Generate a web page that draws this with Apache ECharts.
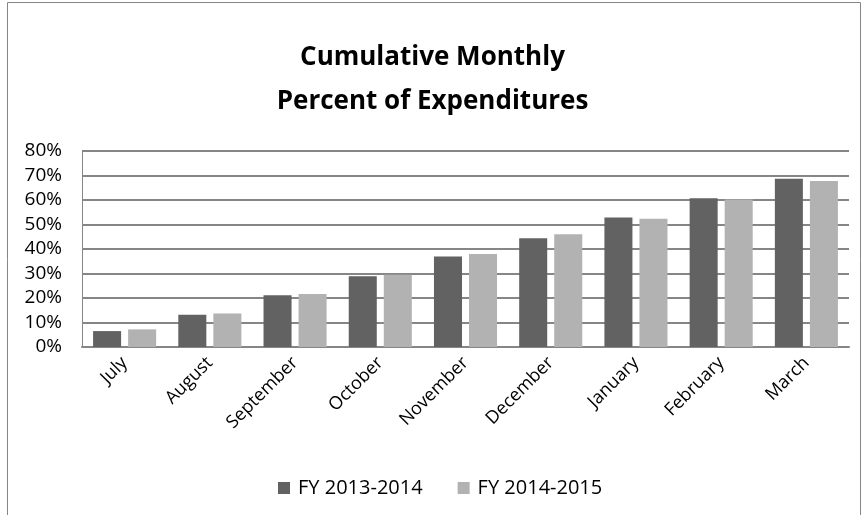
<!DOCTYPE html>
<html><head><meta charset="utf-8">
<script src="https://cdn.jsdelivr.net/npm/echarts@6/dist/echarts.min.js"></script>
<style>html,body{margin:0;padding:0;background:#fff}#c{width:865px;height:515px}</style>
</head><body><div id="c"></div>
<script>
const categories = ['July','August','September','October','November','December','January','February','March'];
const fy1314 = [6.5,13.2,21.1,28.9,36.9,44.4,52.9,60.7,68.7];
const fy1415 = [7.2,13.7,21.6,29.5,38.0,46.0,52.3,60.2,67.8];
const seriesNames = ['FY 2013-2014','FY 2014-2015'];
const yTicks = [0,10,20,30,40,50,60,70,80];

const font = '"Open Sans", sans-serif';
const chart = echarts.init(document.getElementById('c'));
chart.setOption({
  animation:false,
  backgroundColor:'#fff',
  graphic:[{type:'rect',shape:{x:7.5,y:2.5,width:853,height:520},style:{fill:'none',stroke:'#868686',lineWidth:1}}],
  title:{text:'Cumulative Monthly\nPercent of Expenditures',left:'center',top:31,
    textStyle:{fontFamily:font,fontWeight:'bold',fontSize:26,color:'#000',lineHeight:44}},
  legend:{top:473,left:273,itemWidth:12,itemHeight:12,itemGap:35,icon:'rect',
    textStyle:{fontFamily:font,fontSize:20,color:'#000',padding:[0,0,0,3]},data:seriesNames},
  grid:{left:82,right:16,top:151,height:196},
  xAxis:{type:'category',data:categories,
    axisLine:{lineStyle:{color:'#868686',width:2}},axisTick:{show:false},
    axisLabel:{rotate:45,fontFamily:font,fontSize:18,color:'#000',margin:13}},
  yAxis:{type:'value',min:0,max:80,interval:10,
    axisLabel:{formatter:v=>v+'%',fontFamily:font,fontSize:19,color:'#000',margin:20},
    axisLine:{show:true,lineStyle:{color:'#868686',width:1}},axisTick:{show:false},
    splitLine:{lineStyle:{color:'#868686',width:2}}},
  series:[
    {name:seriesNames[0],type:'bar',data:fy1314,itemStyle:{color:'#626262'},barGap:'25%',barCategoryGap:'26%'},
    {name:seriesNames[1],type:'bar',data:fy1415,itemStyle:{color:'#b2b2b2'}}
  ]
});
</script></body></html>
